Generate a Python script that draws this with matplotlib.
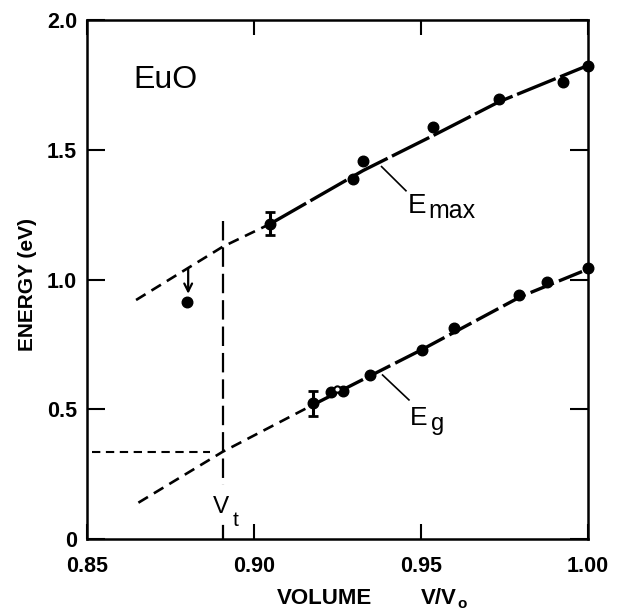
import numpy as np
import matplotlib.pyplot as plt

plt.rcParams['font.family'] = ['Liberation Sans', 'DejaVu Sans']
plt.rcParams['font.weight'] = 'bold'
plt.rcParams['lines.scale_dashes'] = False

# E_max points (filled circles)
emax_v = [0.8798, 0.9048, 0.9295, 0.9327, 0.9537, 0.9734, 0.9926, 1.000]
emax_e = [0.912, 1.215, 1.386, 1.457, 1.589, 1.696, 1.762, 1.824]
# point with error bar
emax_err_v = [0.9048]
emax_err_e = [1.215]
emax_err = [0.045]
# arrow from the extrapolated line down to the lowest point
arrow_v = 0.8803
arrow_top = 1.043
arrow_tip = 0.945

# E_g points
eg_v = [0.9178, 0.9230, 0.9267, 0.9347, 0.9504, 0.9600, 0.9793, 0.9878, 1.000]
eg_e = [0.523, 0.568, 0.571, 0.632, 0.728, 0.812, 0.940, 0.992, 1.043]
eg_open_v = [0.9250]
eg_open_e = [0.580]
eg_err_v = [0.9178]
eg_err_e = [0.523]
eg_err = [0.048]

# guide curves (short-dash extrapolation + long-dash fit)
emax_ext_v = [0.8647, 0.8906, 0.9048]
emax_ext_e = [0.921, 1.126, 1.214]
emax_fit_v = [0.9048, 0.9327, 0.9537, 0.9734, 1.000]
emax_fit_e = [1.214, 1.420, 1.555, 1.685, 1.825]
eg_ext_v = [0.8654, 0.8906, 0.9178]
eg_ext_e = [0.140, 0.336, 0.518]
eg_fit_v = [0.9178, 0.9500, 0.9800, 1.000]
eg_fit_e = [0.518, 0.728, 0.935, 1.040]

# transition volume and gap there
v_t = 0.8906
e_t = 0.335
vt_upper = [1.227, 0.21]
vt_lower = [0.05, 0.0]
gap_line_v = [0.8516, 0.8868]

fig = plt.figure(figsize=(6.23, 6.11), dpi=100)
ax = fig.add_axes([0.1396, 0.1178, 0.8042, 0.8495])

# fits
ax.plot(emax_ext_v, emax_ext_e, color='k', lw=1.9, dashes=(8, 5))
ax.plot(emax_fit_v, emax_fit_e, color='k', lw=2.4, dashes=(30, 3.5), clip_on=False)
ax.plot(eg_ext_v, eg_ext_e, color='k', lw=1.9, dashes=(8, 5))
ax.plot(eg_fit_v, eg_fit_e, color='k', lw=2.4, dashes=(18, 4), clip_on=False)

# V_t construction
ax.plot([v_t, v_t], vt_upper, color='k', lw=1.6, dashes=(14, 5))
ax.plot([v_t, v_t], vt_lower, color='k', lw=1.6)
ax.plot(gap_line_v, [e_t, e_t], color='k', lw=1.5, dashes=(6, 4))

# data
ax.plot(emax_v, emax_e, 'o', color='k', ms=7.6, clip_on=False, zorder=5)
ax.plot(eg_v, eg_e, 'o', color='k', ms=7.6, clip_on=False, zorder=5)
ax.plot(eg_open_v, eg_open_e, 'o', mfc='white', mec='k', mew=1.5, ms=4.5, zorder=6)
ax.errorbar(emax_err_v, emax_err_e, yerr=emax_err, fmt='none', ecolor='k',
            elinewidth=2.2, capsize=3.5, capthick=2, zorder=5)
ax.errorbar(eg_err_v, eg_err_e, yerr=eg_err, fmt='none', ecolor='k',
            elinewidth=2.2, capsize=3.5, capthick=2, zorder=5)
ax.annotate('', xy=(arrow_v, arrow_tip), xytext=(arrow_v, arrow_top),
            arrowprops=dict(arrowstyle='->', lw=1.6, color='k', mutation_scale=14,
                            shrinkA=0, shrinkB=0))

# labels
ax.text(0.8638, 1.738, 'EuO', fontsize=23, fontweight='normal')
ax.plot([0.9382, 0.9455], [1.435, 1.342], color='k', lw=1.2)
ax.text(0.9461, 1.256, 'E', fontsize=20, fontweight='normal')
ax.text(0.9523, 1.237, 'max', fontsize=18, fontweight='normal')
ax.plot([0.9385, 0.9464], [0.632, 0.536], color='k', lw=1.2)
ax.text(0.9467, 0.439, 'E', fontsize=19, fontweight='normal')
ax.text(0.9530, 0.420, 'g', fontsize=17, fontweight='normal')
ax.text(0.8878, 0.100, 'V', fontsize=17.5, fontweight='normal')
ax.text(0.8935, 0.052, 't', fontsize=15, fontweight='normal')

ax.set_xlim(0.85, 1.00)
ax.set_ylim(0, 2.0)
ax.set_xticks([0.85, 0.90, 0.95, 1.00])
ax.set_xticklabels(['0.85', '0.90', '0.95', '1.00'])
ax.set_yticks([0, 0.5, 1.0, 1.5, 2.0])
ax.set_yticklabels(['0', '0.5', '1.0', '1.5', '2.0'])
ax.tick_params(direction='in', width=1.5, top=True, right=True, labelsize=15.5)
ax.tick_params(axis='y', length=13, pad=7)
ax.tick_params(axis='x', length=11, pad=12)
for s in ax.spines.values():
    s.set_linewidth(1.8)

ax.set_ylabel('ENERGY (eV)', fontsize=15, fontweight='bold')
ax.yaxis.set_label_coords(-0.10, 0.49)
fig.text(277 / 623, 0.012, 'VOLUME', fontsize=16, ha='left', va='baseline')
fig.text(421 / 623, 0.012, 'V/V', fontsize=16, ha='left', va='baseline')
fig.text(457 / 623, 0.005, 'o', fontsize=11, ha='left', va='baseline')

fig.savefig('out.png', dpi=100)
